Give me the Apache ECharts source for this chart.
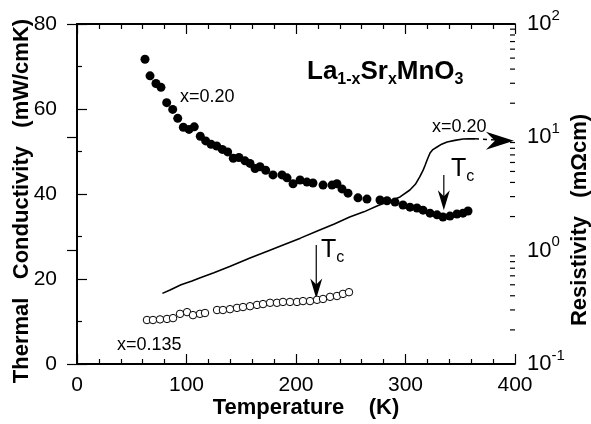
<!DOCTYPE html>
<html>
<head>
<meta charset="utf-8">
<script src="https://cdn.jsdelivr.net/npm/echarts@6/dist/echarts.min.js"></script>
<style>
html,body{margin:0;padding:0;background:#fff;}
#c{width:591px;height:424px;}
</style>
</head>
<body>
<div id="c"></div>
<script>
// ---- data ----
// x = 0.20 thermal conductivity (filled circles): temperature (K), kappa (mW/cmK)
const kT20 = [62.1,66.7,72.1,76.7,81.9,87.4,92.0,97.1,102.3,107.1,112.6,117.5,122.4,127.6,132.7,137.6,142.7,147.9,153.4,158.0,162.6,167.1,172.3,179.0,187.2,191.8,197.3,203.7,210.0,215.5,224.7,232.9,237.4,242.0,247.5,256.6,264.8,276.7,283.1,290.4,297.7,304.1,310.5,316.0,322.4,328.8,334.2,340.6,347.0,352.5,357.1];
const kV20 = [71.7,67.8,66.0,65.1,61.5,59.9,57.8,55.7,55.2,55.8,53.6,52.5,51.7,51.3,50.5,49.9,48.4,48.6,47.8,47.2,46.0,46.4,45.6,44.5,44.5,43.8,42.4,43.3,42.8,42.6,42.1,42.1,42.4,41.2,40.2,39.1,38.8,38.6,38.4,38.1,37.4,36.9,36.7,36.2,35.5,35.1,34.6,34.8,35.3,35.5,36.0];
// x = 0.135 thermal conductivity (open circles)
const kT135 = [63.9,69.4,75.8,82.2,87.7,94.1,100.5,105.9,112.3,116.9,127.9,133.3,139.7,146.1,151.6,158.0,164.4,169.9,176.3,182.6,188.1,194.5,200.9,206.4,212.8,219.2,224.7,231.1,237.4,242.9,248.4];
const kV135 = [10.35,10.35,10.5,10.6,10.8,11.8,12.2,11.5,11.8,12.0,12.7,12.7,12.9,13.2,13.4,13.6,13.9,14.1,14.4,14.4,14.6,14.6,14.6,14.8,14.8,15.1,15.3,15.8,16.0,16.5,16.9];
// x = 0.20 resistivity (line, right log axis): temperature (K), rho (mOhm cm)
const rT = [78,85,95,105,112,125,140,158,175,190,204,220,235,249,262,275,286,295,304,309,313,316,318,320,322.4,325,328.8,333,338,345,352.5,358,363.5];
const rV = [0.42,0.45,0.50,0.54,0.575,0.64,0.73,0.86,1.0,1.14,1.29,1.50,1.72,1.98,2.2,2.5,2.74,2.98,3.43,3.85,4.47,5.1,5.7,6.4,7.28,7.8,8.22,8.7,9.1,9.4,9.67,9.72,9.7];
// dashed continuation and arrow tip of the resistivity curve
const rDashT = [363.5,386];
const rDashV = [9.7,9.45];
const rArrowTip = [[399,9.35]];
// Tc arrows: [temperature, kappa top, kappa tip]
const tcArrows = [[335,44.5,36.2],[218.5,28,15.4]];
// axis ticks
const xTicks = [0,100,200,300,400];
const yLeftTicks = [0,20,40,60,80];
const yRightDecades = [0.1,1,10,100];
const logMinors = [];
for (let d of [0.1,1,10]) for (let m = 2; m <= 9; m++) logMinors.push(+(d*m).toPrecision(3));

const FONT = 'Liberation Sans, Arial, Helvetica, sans-serif';
const chart = echarts.init(document.getElementById('c'), null, {renderer:'canvas'});

const axisLine = {show:true, lineStyle:{color:'#000', width:1.8}};
const tickStyle = {color:'#000', width:1.2};
const opt = {
  animation:false,
  backgroundColor:'#fff',
  grid:{left:77, right:76, top:24, bottom:60},
  xAxis:[
    {type:'value', min:xTicks[0], max:xTicks[xTicks.length-1], interval:100, position:'bottom',
     axisLine:axisLine, splitLine:{show:false},
     axisTick:{inside:true, length:10, lineStyle:tickStyle},
     minorTick:{show:true, splitNumber:5, length:5, lineStyle:tickStyle},
     axisLabel:{color:'#000', fontSize:21, fontFamily:FONT, margin:11}},
    {type:'value', min:0, max:400, interval:100, position:'top',
     axisLine:axisLine, splitLine:{show:false},
     axisTick:{inside:true, length:10, lineStyle:tickStyle},
     minorTick:{show:true, splitNumber:5, length:5, lineStyle:tickStyle},
     axisLabel:{show:false}}
  ],
  yAxis:[
    {type:'value', min:yLeftTicks[0], max:yLeftTicks[yLeftTicks.length-1], interval:20, position:'left',
     axisLine:axisLine, splitLine:{show:false},
     axisTick:{inside:true, length:10, lineStyle:tickStyle},
     minorTick:{show:true, splitNumber:2, length:5, lineStyle:tickStyle},
     axisLabel:{color:'#000', fontSize:21, fontFamily:FONT, margin:20}},
    {type:'log', logBase:10, min:yRightDecades[0], max:yRightDecades[yRightDecades.length-1], position:'right',
     axisLine:axisLine, splitLine:{show:false},
     axisTick:{inside:true, length:10, lineStyle:tickStyle},
     axisLabel:{color:'#000', fontFamily:FONT, margin:12,
       formatter:function(v){ const e = Math.round(Math.log10(v)); return '{b|10}{s|' + e + '}'; },
       rich:{b:{fontSize:22, fontFamily:FONT, color:'#000', lineHeight:32},
             s:{fontSize:15, fontFamily:FONT, color:'#000', lineHeight:14, verticalAlign:'top'}}}}
  ],
  series:[
    {type:'scatter', name:'k020', xAxisIndex:0, yAxisIndex:0, symbol:'circle', symbolSize:9,
     itemStyle:{color:'#000', opacity:1}, silent:true,
     data:kT20.map((t,i)=>[t,kV20[i]])},
    {type:'scatter', name:'k0135', xAxisIndex:0, yAxisIndex:0, symbol:'circle', symbolSize:7.5,
     itemStyle:{color:'#fff', borderColor:'#000', borderWidth:1, opacity:1}, silent:true,
     data:kT135.map((t,i)=>[t,kV135[i]])},
    {type:'line', name:'rho', xAxisIndex:0, yAxisIndex:1, showSymbol:false, symbol:'none',
     lineStyle:{color:'#000', width:1.6}, silent:true,
     data:rT.map((t,i)=>[t,rV[i]])},
    {type:'line', name:'rhoDash', xAxisIndex:0, yAxisIndex:1, showSymbol:false, symbol:'none',
     lineStyle:{color:'#000', width:1.5, type:[4,4]}, silent:true,
     data:rDashT.map((t,i)=>[t,rDashV[i]])},
    {type:'custom', name:'rhoArrow', xAxisIndex:0, yAxisIndex:1, silent:true, clip:false,
     data:rArrowTip,
     renderItem:function(params, api){
       const p = api.coord([api.value(0), api.value(1)]);
       return {type:'polygon', shape:{points:[[p[0],p[1]],[p[0]-28,p[1]-9],[p[0]-19,p[1]],[p[0]-28,p[1]+9]]},
               style:{fill:'#000'}};
     }},
    {type:'custom', name:'tc', xAxisIndex:0, yAxisIndex:0, silent:true, clip:false,
     data:tcArrows,
     renderItem:function(params, api){
       const a = api.coord([api.value(0), api.value(1)]);
       const b = api.coord([api.value(0), api.value(2)]);
       return {type:'group', children:[
         {type:'line', shape:{x1:a[0], y1:a[1], x2:b[0], y2:b[1]-6}, style:{stroke:'#000', lineWidth:1.2}},
         {type:'polygon', shape:{points:[[b[0],b[1]],[b[0]-6,b[1]-20],[b[0],b[1]-14],[b[0]+6,b[1]-20]]}, style:{fill:'#000'}}
       ]};
     }},
    {type:'custom', name:'logMinor', xAxisIndex:0, yAxisIndex:1, silent:true, clip:false,
     data:logMinors.map(v=>[400,v]),
     renderItem:function(params, api){
       const p = api.coord([api.value(0), api.value(1)]);
       return {type:'line', shape:{x1:p[0], y1:p[1], x2:p[0]-5, y2:p[1]}, style:{stroke:'#000', lineWidth:1.2}};
     }}
  ],
  graphic:[
    {type:'text', left:307, top:59, silent:true,
     style:{text:'{b|La}{s|1-x}{b|Sr}{s|x}{b|MnO}{s|3}', fontFamily:FONT,
       rich:{b:{fontSize:26, fontWeight:'bold', fontFamily:FONT, fill:'#000', lineHeight:32},
             s:{fontSize:16, fontWeight:'bold', fontFamily:FONT, fill:'#000', lineHeight:12, verticalAlign:'bottom'}}}},
    {type:'text', x:180, y:97, silent:true,
     style:{text:'x=0.20', fontSize:18, fontFamily:FONT, fill:'#000', textVerticalAlign:'middle'}},
    {type:'text', x:432, y:127, silent:true,
     style:{text:'x=0.20', fontSize:18, fontFamily:FONT, fill:'#000', textVerticalAlign:'middle'}},
    {type:'text', x:117, y:345, silent:true,
     style:{text:'x=0.135', fontSize:18, fontFamily:FONT, fill:'#000', textVerticalAlign:'middle'}},
    {type:'text', left:451, top:157, silent:true,
     style:{text:'{t|T}{c|c}', rich:{t:{fontSize:25, fontFamily:FONT, fill:'#000', lineHeight:30},
                                    c:{fontSize:16, fontFamily:FONT, fill:'#000', lineHeight:10, verticalAlign:'bottom'}}}},
    {type:'text', left:321, top:238, silent:true,
     style:{text:'{t|T}{c|c}', rich:{t:{fontSize:25, fontFamily:FONT, fill:'#000', lineHeight:30},
                                    c:{fontSize:16, fontFamily:FONT, fill:'#000', lineHeight:10, verticalAlign:'bottom'}}}},
    {type:'text', x:306, y:408, silent:true,
     style:{text:'Temperature    (K)', fontSize:22, fontWeight:'bold', fontFamily:FONT, fill:'#000',
            textAlign:'center', textVerticalAlign:'middle'}},
    {type:'text', x:22, y:201, rotation:Math.PI/2, silent:true,
     style:{text:'Thermal   Conductivity   (mW/cmK)', fontSize:22, fontWeight:'bold', fontFamily:FONT, fill:'#000',
            textAlign:'center', textVerticalAlign:'middle'}},
    {type:'text', x:580, y:220, rotation:Math.PI/2, silent:true,
     style:{text:'Resistivity   (mΩcm)', fontSize:22, fontWeight:'bold', fontFamily:FONT, fill:'#000',
            textAlign:'center', textVerticalAlign:'middle'}}
  ]
};
chart.setOption(opt);
</script>
</body>
</html>
